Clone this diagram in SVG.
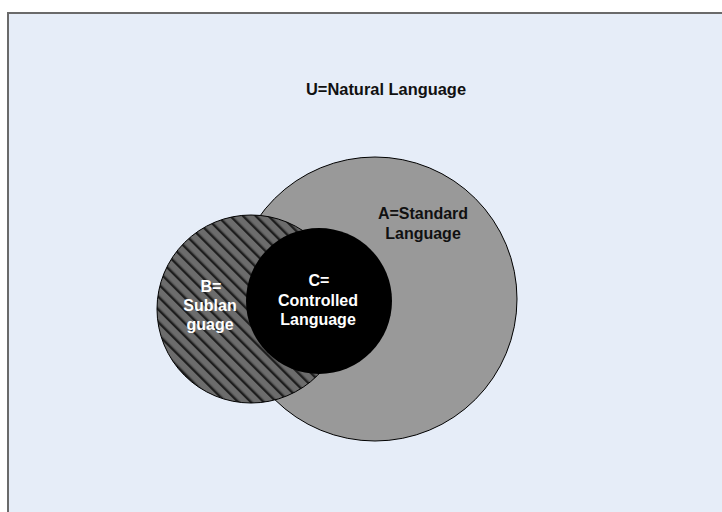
<svg xmlns="http://www.w3.org/2000/svg" width="722" height="512" viewBox="0 0 722 512">
  <defs>
    <pattern id="hatch" patternUnits="userSpaceOnUse" width="9" height="9" patternTransform="rotate(-45)">
      <rect width="9" height="9" fill="#6c6c6c"/>
      <rect x="0" y="0" width="2.4" height="9" fill="#1e1e1e"/>
      <rect x="2.4" y="0" width="0.8" height="9" fill="#4a4a4a"/>
    </pattern>
  </defs>
  <style>
    .lbl { font-family: "Liberation Sans", Arial, sans-serif; font-weight: bold; font-size: 16px; text-anchor: middle; }
    .dark { fill: #111111; }
    .light { fill: #ffffff; }
    .set { stroke: #000000; stroke-width: 1; }
  </style>

  <!-- universe frame -->
  <rect x="0" y="0" width="722" height="512" fill="#ffffff"/>
  <rect id="universe" x="8" y="13" width="730" height="520" fill="#e6edf8" stroke="#6a6a6a" stroke-width="2"/>
  <text class="lbl dark" x="386" y="95" textLength="160" lengthAdjust="spacingAndGlyphs">U=Natural Language</text>

  <!-- A: standard language -->
  <g id="setA">
    <circle class="set" cx="375" cy="299" r="142" fill="#999999"/>
    <text class="lbl dark" x="423" y="219">A=Standard</text>
    <text class="lbl dark" x="423" y="238.5">Language</text>
  </g>

  <!-- B: sublanguage -->
  <g id="setB">
    <circle class="set" cx="251" cy="309" r="94" fill="url(#hatch)"/>
  </g>

  <!-- C: controlled language -->
  <g id="setC">
    <circle cx="319" cy="301" r="73" fill="#000000"/>
    <text class="lbl light" x="319" y="286">C=</text>
    <text class="lbl light" x="318" y="305.5">Controlled</text>
    <text class="lbl light" x="318" y="325">Language</text>
  </g>

  <!-- B labels drawn last so they sit over the hatch -->
  <g id="setB-label">
    <text class="lbl light" x="211" y="291.5">B=</text>
    <text class="lbl light" x="210" y="310.5">Sublan</text>
    <text class="lbl light" x="210" y="330">guage</text>
  </g>

  <g id="connectors"/>
</svg>
